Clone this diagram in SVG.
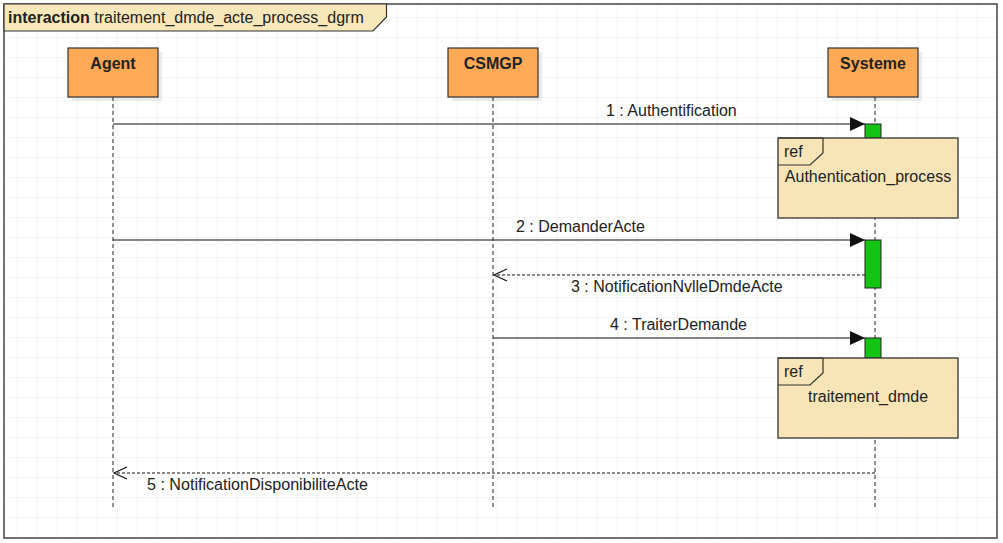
<svg xmlns="http://www.w3.org/2000/svg" width="1003" height="543" viewBox="0 0 1003 543">
<style>
text{font-family:"Liberation Sans",Arial,sans-serif;fill:#222;font-size:16px}
.b{font-weight:bold}
.life{stroke:#222;stroke-width:1;stroke-dasharray:4 3;fill:none}
.msg{stroke:#111;stroke-width:1.2;fill:none}
.ret{stroke:#111;stroke-width:1.2;fill:none;stroke-dasharray:3 2}
.part{fill:#ffaa56;stroke:#333;stroke-width:1.2}
.shadow{fill:#000;opacity:0.08}
.act{fill:#12c512;stroke:#222;stroke-width:1}
.ref{fill:#f7e5b8;stroke:#333;stroke-width:1.3}
.grid{stroke:#ebebeb;stroke-width:1}
</style>
<defs>
<pattern id="g" x="-2" y="-2" width="20" height="20" patternUnits="userSpaceOnUse">
<path d="M20 0V20M0 20H20" class="grid"/>
</pattern>
<marker id="fa" markerWidth="16" markerHeight="14" refX="15" refY="7" orient="auto" markerUnits="userSpaceOnUse">
<path d="M0,0 L15,7 L0,14 Z" fill="#111"/>
</marker>
<marker id="oa" markerWidth="16" markerHeight="14" refX="14" refY="7" orient="auto" markerUnits="userSpaceOnUse">
<path d="M1,1 L14,7 L1,13" fill="none" stroke="#111" stroke-width="1.2"/>
</marker>
</defs>
<rect x="0" y="0" width="1003" height="543" fill="#fff"/>
<rect x="4" y="4" width="993" height="534" fill="url(#g)"/>
<g id="frame">
<rect x="4" y="4" width="993" height="534" fill="none" stroke="#444" stroke-width="1.5"/>
<path d="M4,4 H386.5 V17 L373,31 H4 Z" fill="#f8e7b9" stroke="#333" stroke-width="1.2"/>
<text x="8" y="23"><tspan class="b">interaction</tspan> traitement_dmde_acte_process_dgrm</text>
</g>
<g id="lifelines">
<path class="life" d="M113,97 V507"/>
<path class="life" d="M493,97 V507"/>
<path class="life" d="M875,97 V507"/>
</g>
<g id="agent">
<rect class="shadow" x="72" y="52" width="90" height="49"/>
<rect class="part" x="68" y="48" width="90" height="49"/>
<text class="b" x="113" y="69" text-anchor="middle">Agent</text>
</g>
<g id="csmgp">
<rect class="shadow" x="452" y="52" width="90" height="49"/>
<rect class="part" x="448" y="48" width="90" height="49"/>
<text class="b" x="493" y="69" text-anchor="middle">CSMGP</text>
</g>
<g id="systeme">
<rect class="shadow" x="832" y="52" width="90" height="49"/>
<rect class="part" x="828" y="48" width="90" height="49"/>
<text class="b" x="873" y="69" text-anchor="middle">Systeme</text>
</g>
<g id="activations">
<rect class="act" x="865" y="124" width="16" height="14"/>
<rect class="act" x="865" y="240" width="16" height="48"/>
<rect class="act" x="865" y="338" width="16" height="20"/>
</g>
<g id="ref_authentication">
<rect class="ref" x="778" y="138" width="180" height="80"/>
<path d="M778,138 H823 V153 L810,165 H778" fill="none" stroke="#333" stroke-width="1.2"/>
<text x="784" y="157">ref</text>
<text x="868" y="182" text-anchor="middle">Authentication_process</text>
</g>
<g id="ref_traitement">
<rect class="ref" x="778" y="358" width="180" height="80"/>
<path d="M778,358 H823 V373 L810,385 H778" fill="none" stroke="#333" stroke-width="1.2"/>
<text x="784" y="377">ref</text>
<text x="868" y="402" text-anchor="middle">traitement_dmde</text>
</g>
<g id="connectors">
<path class="msg" d="M113,124 H865" marker-end="url(#fa)"/>
<path class="msg" d="M113,240 H865" marker-end="url(#fa)"/>
<path class="ret" d="M865,275 H494" marker-end="url(#oa)"/>
<path class="msg" d="M493,338 H865" marker-end="url(#fa)"/>
<path class="ret" d="M875,473 H114" marker-end="url(#oa)"/>
<text x="606" y="116">1 : Authentification</text>
<text x="516" y="232">2 : DemanderActe</text>
<text x="571" y="292">3 : NotificationNvlleDmdeActe</text>
<text x="610" y="330">4 : TraiterDemande</text>
<text x="147" y="490" textLength="221" lengthAdjust="spacingAndGlyphs">5 : NotificationDisponibiliteActe</text>
</g>
</svg>
